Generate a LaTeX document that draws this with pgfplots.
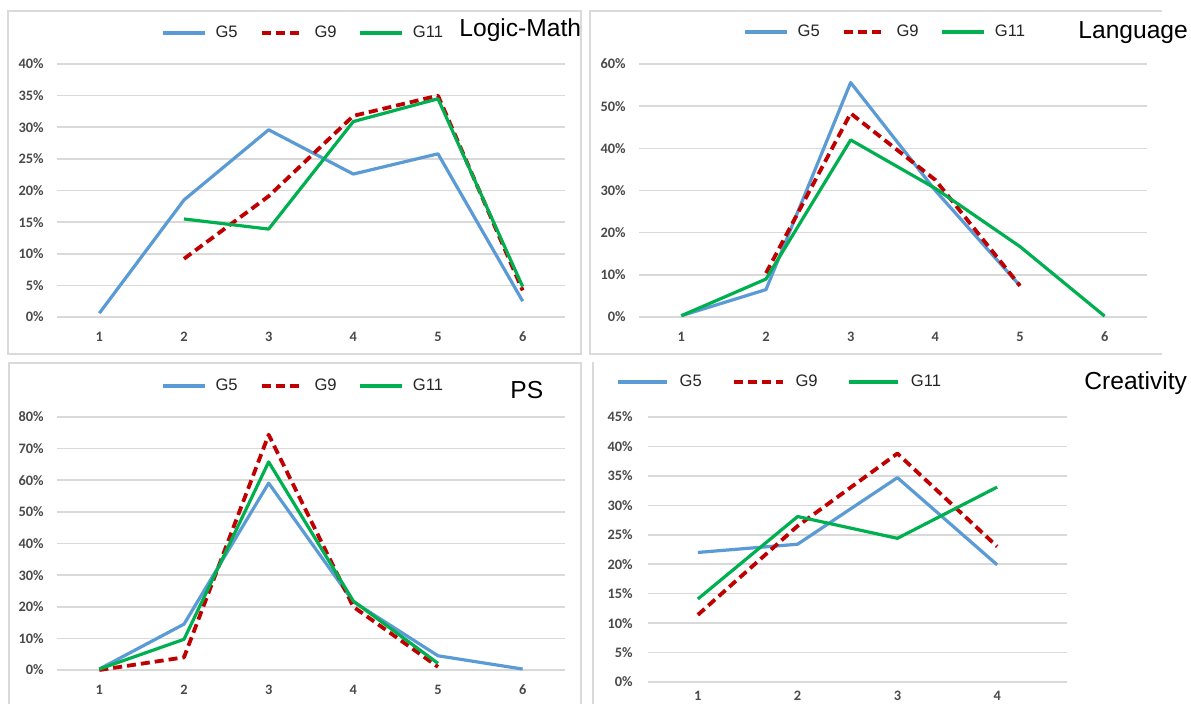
\documentclass[border=0pt]{standalone}
\usepackage{pgfplots}
\pgfplotsset{compat=1.18}
\usepackage{fontspec}
\setmainfont{Liberation Sans}
\newfontfamily\tickfont{Carlito}
\definecolor{cGfive}{HTML}{5B9BD5}
\definecolor{cGnine}{HTML}{C00000}
\definecolor{cGeleven}{HTML}{00B050}
\definecolor{gridc}{HTML}{D9D9D9}
\definecolor{tickc}{HTML}{4A4A4A}
\definecolor{framec}{HTML}{DADADA}

\pgfplotsset{
  panel/.style={
    scale only axis,
    width=254pt, height=126.5pt,
    xmin=0.5, xmax=6.5, ymin=0,
    xtick={1,...,6},
    axis line style={draw=none},
    major tick length=0pt,
    ymajorgrids,
    grid style={gridc, line width=0.8pt},
    clip=false,
    tick label style={font=\tickfont\bfseries\fontsize{7.2}{8}\selectfont, text=tickc},
    /pgf/number format/assume math mode=true,
    yticklabel={\pgfmathprintnumber{\tick}\%},
    legend columns=3,
    legend style={draw=none, fill=none, inner sep=0pt, anchor=west,
      font=\fontsize{8.3}{10}\selectfont, text=black!85,
      nodes={inner sep=0pt},
      /tikz/every odd column/.append style={column sep=4.5pt},
      /tikz/every even column/.append style={column sep=11pt}},
    legend image code/.code={\draw[##1] (0pt,0pt) -- (21pt,0pt);},
  },
  longleg/.style={legend image code/.code={\draw[##1] (0pt,0pt) -- (24.5pt,0pt);}},
  sG5/.style={cGfive, line width=1.6pt, line join=round},
  sG9/.style={cGnine, line width=1.9pt, dash pattern=on 4.5pt off 2.5pt, line join=round},
  sG11/.style={cGeleven, line width=1.6pt, line join=round},
}

\begin{document}
\begin{tikzpicture}
\useasboundingbox (0,0) rectangle (595.5pt,351.5pt);
\clip (0,0) rectangle (595.5pt,351.5pt);
\fill[white] (0,0) rectangle (595.5pt,351.5pt);

% frames
\draw[framec, line width=0.9pt] (4pt,174.5pt) rectangle (290.5pt,346pt);
\draw[framec, line width=0.9pt] (581pt,174.5pt) -- (295pt,174.5pt) -- (295pt,346pt) -- (581pt,346pt);
\draw[framec, line width=0.9pt] (4.5pt,-2pt) -- (4.5pt,170pt) -- (290.5pt,170pt) -- (290.5pt,-2pt);
\draw[framec, line width=0.9pt] (296.5pt,-2pt) -- (296.5pt,170.5pt);

% Logic-Math
\begin{axis}[panel, at={(28.5pt,193pt)}, anchor=south west,
  ymax=40, ytick={0,5,...,40},
  yticklabel style={anchor=east, inner sep=0pt, xshift=-6.5pt},
  xticklabel style={anchor=center, inner sep=0pt, yshift=-10pt},
  legend style={at={(0.2047,1.1225)}}]
\addplot[sG5] coordinates {(1,0.6) (2,18.5) (3,29.6) (4,22.6) (5,25.8) (6,2.5)};
\addplot[sG9] coordinates {(2,9.2) (3,19.1) (4,31.8) (5,35.0) (6,4.2)};
\addplot[sG11] coordinates {(2,15.5) (3,13.9) (4,30.9) (5,34.5) (6,4.8)};
\legend{G5,G9,G11}
\end{axis}
\node[anchor=base west, font=\fontsize{12.3}{14}\selectfont, inner sep=0pt] at (229.5pt,333pt) {Logic-Math};

% Language
\begin{axis}[panel, at={(319.5pt,193pt)}, anchor=south west,
  ymax=60, ytick={0,10,...,60},
  yticklabel style={anchor=east, inner sep=0pt, xshift=-6.5pt},
  xticklabel style={anchor=center, inner sep=0pt, yshift=-10pt},
  legend style={at={(0.2047,1.1265)}}]
\addplot[sG5] coordinates {(1,0.3) (2,6.5) (3,55.6) (4,30.0) (5,7.4)};
\addplot[sG9] coordinates {(2,10.4) (3,48.3) (4,32.5) (5,7.4)};
\addplot[sG11] coordinates {(1,0.3) (2,9.0) (3,42.0) (4,30.5) (5,16.7) (6,0.2)};
\legend{G5,G9,G11}
\end{axis}
\node[anchor=base west, font=\fontsize{12.3}{14}\selectfont, inner sep=0pt] at (539pt,332pt) {Language};

% PS
\begin{axis}[panel, at={(28.5pt,16.5pt)}, anchor=south west,
  ymax=80, ytick={0,10,...,80},
  yticklabel style={anchor=east, inner sep=0pt, xshift=-6.5pt},
  xticklabel style={anchor=center, inner sep=0pt, yshift=-10pt},
  legend style={at={(0.2047,1.1225)}}]
\addplot[sG5] coordinates {(1,0.3) (2,14.5) (3,59.1) (4,21.6) (5,4.5) (6,0.3)};
\addplot[sG9] coordinates {(1,0.0) (2,4.0) (3,74.4) (4,20.0) (5,1.0)};
\addplot[sG11] coordinates {(1,0.3) (2,9.7) (3,65.8) (4,21.8) (5,2.1)};
\legend{G5,G9,G11}
\end{axis}
\node[anchor=base west, font=\fontsize{12.3}{14}\selectfont, inner sep=0pt] at (255pt,152pt) {PS};

% Creativity
\begin{axis}[panel, longleg, at={(324pt,10.5pt)}, anchor=south west,
  width=209.5pt, height=132.5pt,
  xmin=0.5, xmax=4.7, xtick={1,...,4},
  ymax=45, ytick={0,5,...,45},
  yticklabel style={anchor=east, inner sep=0pt, xshift=-7.5pt},
  xticklabel style={anchor=center, inner sep=0pt, yshift=-6.8pt},
  legend style={at={(-0.0764,1.132)},
    /tikz/every odd column/.append style={column sep=5.5pt},
    /tikz/every even column/.append style={column sep=15pt}}]
\addplot[sG5] coordinates {(1,22.0) (2,23.4) (3,34.7) (4,19.9)};
\addplot[sG9] coordinates {(1,11.4) (2,26.5) (3,38.8) (4,23.0)};
\addplot[sG11] coordinates {(1,14.1) (2,28.1) (3,24.4) (4,33.1)};
\legend{G5,G9,G11}
\end{axis}
\node[anchor=base west, font=\fontsize{12.3}{14}\selectfont, inner sep=0pt] at (542pt,157pt) {Creativity};
\end{tikzpicture}
\end{document}
